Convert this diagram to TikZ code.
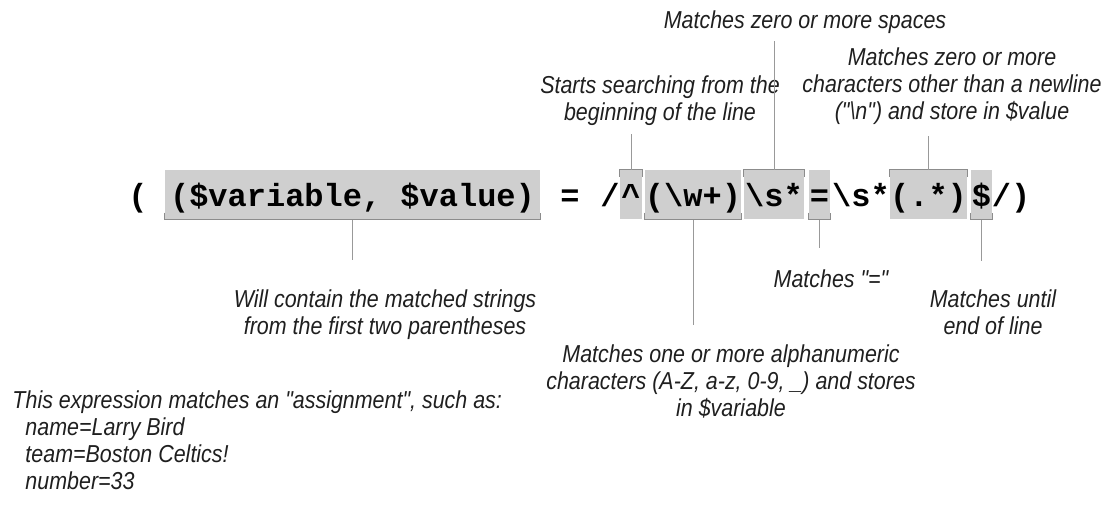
\documentclass[tikz,border=0pt]{standalone}
\usepackage{fontspec}
\setmainfont{Liberation Sans}
\newfontfamily\lblfont[FakeStretch=0.875]{Liberation Sans}
\newfontfamily\codefont{Liberation Mono}
\begin{document}
\begin{tikzpicture}[x=1pt, y=-1pt, line width=1pt,
  code/.style={inner sep=0pt, text height=26pt, text depth=3pt, minimum height=49pt,
      font=\codefont\bfseries\fontsize{32pt}{36pt}\selectfont},
  box/.style={code, fill=black!19},
  lbl/.style={inner sep=0pt, align=center, text=black!88,
      font=\lblfont\itshape\fontsize{24.5pt}{27pt}\selectfont},
  brk/.style={draw=black!45},
  con/.style={draw=black!40}]

  \useasboundingbox (0,0) rectangle (1112,504);

  \def\yc{194.5}

  % The expression, piece by piece
  \node[code] (po) at (138,\yc) {(};
  \node[box, minimum width=375pt] (bv) at (352.5,\yc) {(\$variable, \$value)};
  \node[code] (eq) at (570,\yc) {=};
  \node[code] (sl) at (610,\yc) {/};
  \node[box, minimum width=22pt] (bc) at (631,\yc) {\textasciicircum};
  \node[box, minimum width=92pt] (bw) at (693,\yc) {(\textbackslash w+)};
  \node[box, minimum width=60pt] (bs) at (774,\yc) {\textbackslash s*};
  \node[box, minimum width=21pt] (be) at (819.5,\yc) {=};
  \node[code] (sp) at (861,\yc) {\textbackslash s*};
  \node[box, minimum width=73pt] (bdot) at (928.5,\yc) {(.*)};
  \node[box, minimum width=21pt] (bend) at (981.5,\yc) {\$};
  \node[code] (pc) at (1011,\yc) {/)};

  % Brackets under and over the boxes
  \foreach \b in {bv,bw,be,bend}
    \draw[brk] ([yshift=7pt]\b.south west) -- (\b.south west) -- (\b.south east) -- ([yshift=7pt]\b.south east);
  \foreach \b in {bc,bs,bdot}
    \draw[brk] ([yshift=-7pt]\b.north west) -- (\b.north west) -- (\b.north east) -- ([yshift=-7pt]\b.north east);

  % Labels above
  \node[lbl, anchor=north] (lsp) at (805,10) {Matches zero or more spaces};
  \node[lbl, anchor=north] (lst) at (660,75) {Starts searching from the\\beginning of the line};
  \node[lbl, anchor=north] (lval) at (952,47) {Matches zero or more\\characters other than a newline\\("\textbackslash n") and store in \$value};

  % Labels below
  \node[lbl, anchor=north] (lvar) at (385,289) {Will contain the matched strings\\from the first two parentheses};
  \node[lbl, anchor=north] (leq) at (831,269) {Matches "="};
  \node[lbl, anchor=north] (lend) at (993,289) {Matches until\\end of line};
  \node[lbl, anchor=north] (lw) at (731,344) {Matches one or more alphanumeric\\characters (A-Z, a-z, 0-9, \_) and stores\\in \$variable};
  \node[lbl, anchor=north west, align=left] (lex) at (12,390) {This expression matches an "assignment", such as:\\
    \hspace*{13pt}name=Larry Bird\\\hspace*{13pt}team=Boston Celtics!\\\hspace*{13pt}number=33};

  % Connectors
  \draw[con, shorten >=8pt] (bc.north) -- (bc.north |- lst.south);
  \draw[con, shorten >=7pt] (bs.north) -- (bs.north |- lsp.south);
  \draw[con, shorten >=11pt] (bdot.north) -- (bdot.north |- lval.south);
  \draw[con, shorten >=29pt] (bv.south) -- (bv.south |- lvar.north);
  \draw[con, shorten >=19pt] (bw.south) -- (bw.south |- lw.north);
  \draw[con, shorten >=21pt] (be.south) -- (be.south |- leq.north);
  \draw[con, shorten >=28pt] (bend.south) -- (bend.south |- lend.north);

\end{tikzpicture}
\end{document}
